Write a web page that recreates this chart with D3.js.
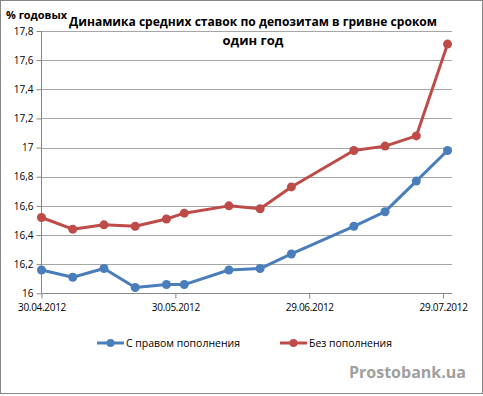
<!DOCTYPE html>
<html><head><meta charset="utf-8">
<script src="https://cdn.jsdelivr.net/npm/d3@7"></script>
<style>body{margin:0;background:#fff}svg{display:block}</style>
</head><body>
<script>
const dates = ["30.04.2012","07.05.2012","14.05.2012","21.05.2012","28.05.2012","01.06.2012","11.06.2012","18.06.2012","25.06.2012","09.07.2012","16.07.2012","23.07.2012","30.07.2012"];
const withTopUp = [16.16,16.11,16.17,16.04,16.06,16.06,16.16,16.17,16.27,16.46,16.56,16.77,16.98];
const noTopUp = [16.52,16.44,16.47,16.46,16.51,16.55,16.60,16.58,16.73,16.98,17.01,17.08,17.71];
const seriesNames = ["С правом пополнения","Без пополнения"];
const seriesColors = ["#4a7ebb","#be4b48"];
const xTickLabels = ["30.04.2012","30.05.2012","29.06.2012","29.07.2012"];
const yTicks = [16,16.2,16.4,16.6,16.8,17,17.2,17.4,17.6,17.8];
const titleLines = ["Динамика средних ставок по депозитам в гривне сроком","один год"];
const yUnit = "% годовых";
const watermark = "Prostobank.ua";

const W=483,H=396;
const parse = d3.timeParse("%d.%m.%Y");
const svg = d3.select("body").append("svg").attr("width",W).attr("height",H)
  .style("font-family","'Open Sans', sans-serif");
svg.append("rect").attr("x",0.5).attr("y",0.5).attr("width",W-1).attr("height",H-3)
  .attr("fill","#fff").attr("stroke","#868686");

const x = d3.scaleTime().domain([parse("30.04.2012"),parse("31.07.2012")]).range([41.5,452]);
const y = d3.scaleLinear().domain([16,17.8]).range([293.3,31]);

// gridlines
svg.append("g").selectAll("line").data(yTicks.slice(1)).join("line")
  .attr("x1",41.5).attr("x2",452).attr("y1",d=>Math.round(y(d))+0.5).attr("y2",d=>Math.round(y(d))+0.5)
  .attr("stroke","#a6a6a6").attr("stroke-width",1);

// y axis
const yAxis = d3.axisLeft(y).tickValues(yTicks).tickSize(5).tickFormat(d=>d3.format(".1f")(d).replace(".0","").replace(".",","));
const gy = svg.append("g").attr("transform","translate(41.5,0)").call(yAxis);
gy.selectAll("path,line").attr("stroke","#868686");
gy.select(".domain").attr("d","M0,31V293.3");
gy.selectAll("text").attr("fill","#000").attr("x",-8)
  .style("font-family","'Open Sans', sans-serif").style("font-size","10px");

// x axis
const xAxis = d3.axisBottom(x).tickValues(xTickLabels.map(parse)).tickSize(5).tickFormat(d3.timeFormat("%d.%m.%Y"));
const gx = svg.append("g").attr("transform","translate(0,293.5)").call(xAxis);
gx.selectAll("path,line").attr("stroke","#868686");
gx.select(".domain").attr("d","M41.5,0H452");
gx.selectAll("text").attr("fill","#000").attr("dy","0.9em").attr("y",8)
  .style("font-family","'Open Sans', sans-serif").style("font-size","10px").style("letter-spacing","-0.3px");

// series
const series = [withTopUp,noTopUp];
series.forEach((vals,i)=>{
  const pts = vals.map((v,j)=>[x(parse(dates[j])),y(v)]);
  svg.append("path").attr("d",d3.line()(pts)).attr("fill","none")
    .attr("stroke",seriesColors[i]).attr("stroke-width",3).attr("stroke-linejoin","round");
  svg.append("g").selectAll("circle").data(pts).join("circle")
    .attr("cx",d=>d[0]).attr("cy",d=>d[1]).attr("r",4.5).attr("fill",seriesColors[i]);
});

// title
svg.append("g").selectAll("text").data(titleLines).join("text")
  .attr("x",253).attr("y",(d,i)=>26+i*19).attr("text-anchor","middle")
  .attr("font-weight","bold").style("font-size","13px").style("font-family","'Open Sans', sans-serif")
  .attr("textLength",(d,i)=>i===0?368:null).attr("lengthAdjust","spacingAndGlyphs").text(d=>d);
svg.append("text").attr("x",6).attr("y",19).attr("font-weight","bold")
  .style("font-size","10px").style("font-family","'Open Sans', sans-serif").attr("textLength",61).attr("lengthAdjust","spacingAndGlyphs").text(yUnit);

// legend
const legendX=[97,280];
seriesNames.forEach((n,i)=>{
  const g = svg.append("g").attr("transform",`translate(${legendX[i]},343)`);
  g.append("line").attr("x1",0).attr("x2",27).attr("stroke",seriesColors[i]).attr("stroke-width",3);
  g.append("circle").attr("cx",13.5).attr("r",4).attr("fill",seriesColors[i]);
  g.append("text").attr("x",29).attr("dy","0.35em").style("font-size","11px")
    .style("font-family","'Open Sans', sans-serif").attr("textLength",i===0?114:83).attr("lengthAdjust","spacingAndGlyphs").text(n);
});

// watermark
svg.append("text").attr("x",466).attr("y",378).attr("text-anchor","end").attr("font-weight","bold")
  .attr("fill","#a0a0a0").style("font-size","16px").style("font-family","'Open Sans', sans-serif").text(watermark);
</script>
</body></html>
